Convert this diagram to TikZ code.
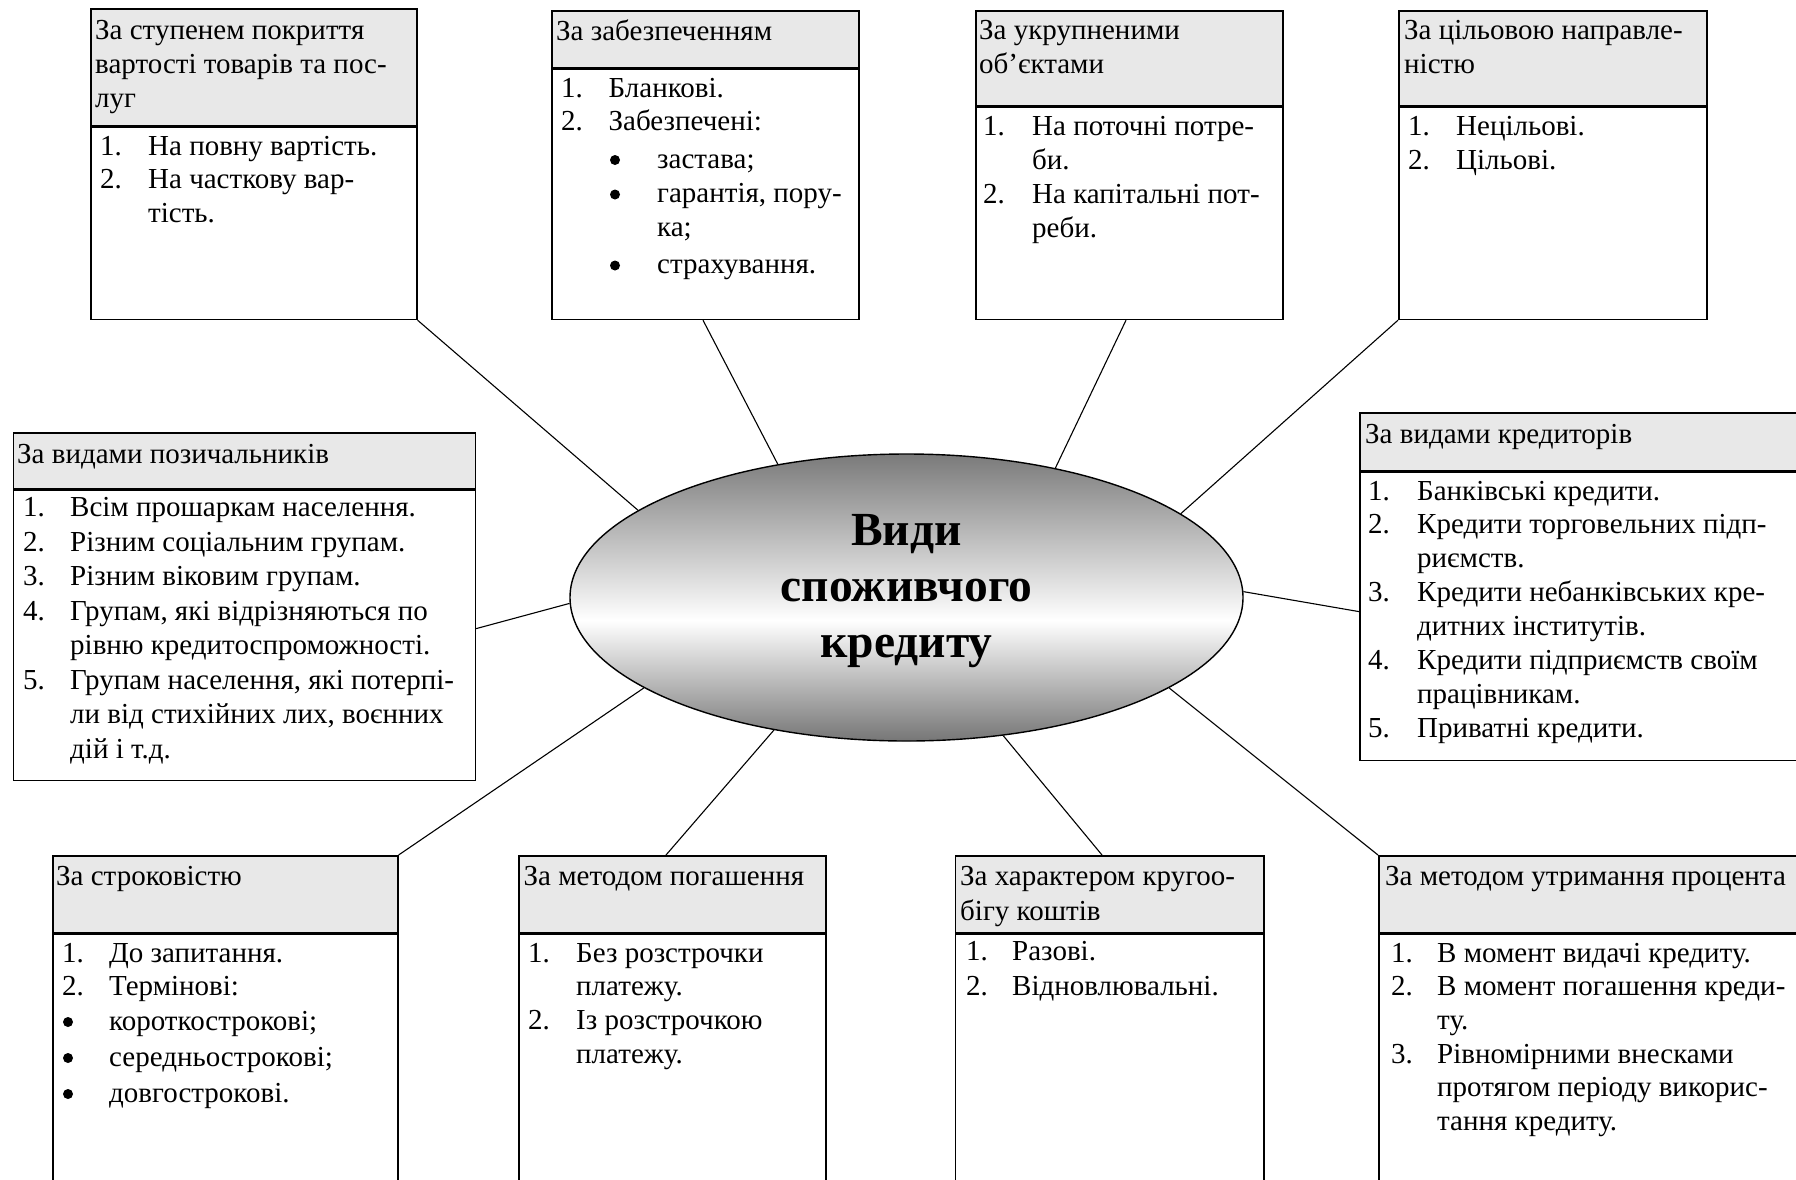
\documentclass[tikz,border=0pt]{standalone}
\usepackage{fontspec}
\setmainfont{Liberation Serif}
\usetikzlibrary{shapes.geometric}
\definecolor{hdrgray}{RGB}{232,232,232}
\definecolor{shtop}{RGB}{122,122,122}
\definecolor{shbot}{RGB}{118,118,118}
\pgfdeclareverticalshading{ellsh}{100bp}{color(0bp)=(shbot); color(25bp)=(shbot); color(46bp)=(white); color(75bp)=(shtop); color(100bp)=(shtop)}
\newcommand\rowl[3][48pt]{\hbox{\hbox to #1{#2\hfil}#3}}
\tikzset{
  box/.style={draw, line width=1.6pt, rectangle, inner sep=0pt, anchor=north west},
  hdr/.style={box, fill=hdrgray},
  txt/.style={inner sep=0pt, anchor=base west, font=\fontsize{29}{34}\selectfont},
  con/.style={line width=1.1pt},
  bul/.style={fill=black},
}
\begin{document}
\begin{tikzpicture}[x=1pt,y=-1pt]
\useasboundingbox (0,0) rectangle (1796,1179);
\clip (0,0) rectangle (1796,1179);
\fill[white] (0,0) rectangle (1796,1179);

% ---- top row boxes
\node[hdr, minimum width=326pt, minimum height=117pt] (b1h) at (90,8) {};
\node[box, minimum width=326pt, minimum height=192pt] (b1) at (b1h.south west) {};
\node[hdr, minimum width=307pt, minimum height=57pt] (b2h) at (551,10) {};
\node[box, minimum width=307pt, minimum height=250pt] (b2) at (b2h.south west) {};
\node[hdr, minimum width=307pt, minimum height=95pt] (b3h) at (975,10) {};
\node[box, minimum width=307pt, minimum height=212pt] (b3) at (b3h.south west) {};
\node[hdr, minimum width=308pt, minimum height=95pt] (b4h) at (1398,10) {};
\node[box, minimum width=308pt, minimum height=212pt] (b4) at (b4h.south west) {};
% ---- middle row boxes
\node[hdr, minimum width=462pt, minimum height=56pt] (bLh) at (12.6,432) {};
\node[box, minimum width=462pt, minimum height=290pt] (bL) at (bLh.south west) {};
\node[hdr, minimum width=460pt, minimum height=58pt] (bRh) at (1359,412) {};
\node[box, minimum width=460pt, minimum height=288pt] (bR) at (bRh.south west) {};
% ---- bottom row boxes
\node[hdr, minimum width=345pt, minimum height=77pt] (s1h) at (52,855) {};
\node[box, minimum width=345pt, minimum height=300pt] (s1) at (s1h.south west) {};
\node[hdr, minimum width=307pt, minimum height=77pt] (s2h) at (518,855) {};
\node[box, minimum width=307pt, minimum height=300pt] (s2) at (s2h.south west) {};
\node[hdr, minimum width=308.5pt, minimum height=77pt] (s3h) at (954.5,855) {};
\node[box, minimum width=308.5pt, minimum height=300pt] (s3) at (s3h.south west) {};
\node[hdr, minimum width=440pt, minimum height=77pt] (s4h) at (1378,855) {};
\node[box, minimum width=440pt, minimum height=300pt] (s4) at (s4h.south west) {};

% ---- central ellipse
\node[ellipse, draw, line width=1.4pt, minimum width=673pt, minimum height=287pt, inner sep=0pt, shading=ellsh] (ell) at (906.5,597.5) {};
\node[inner sep=0pt, anchor=base, font=\bfseries\fontsize{47.5}{56}\selectfont] (ctext) at (906.5,545)
  {\vtop{\halign{\hfil#\hfil\cr Види\cr споживчого\cr кредиту\cr}}};

% ---- connectors
\draw[con] (b1.south east) -- (ell.162);
\draw[con] ([xshift=152pt]b2.south west) -- (ell.134.1);
\draw[con] ([xshift=151pt]b3.south west) -- (ell.41.4);
\draw[con] (b4.south west) -- (ell.17.1);
\draw[con] ([yshift=-139pt]bL.north east) -- (ell.181.8);
\draw[con] ([yshift=-140pt]bR.north west) -- (ell.1.3);
\draw[con] (s1h.north east) -- (ell.199.05);
\draw[con] ([xshift=148pt]s2h.north west) -- (ell.225.2);
\draw[con] ([xshift=147.5pt]s3h.north west) -- (ell.305.5);
\draw[con] (s4h.north west) -- (ell.341.6);

% ---- texts: top row
\node[txt] (b1ht) at (95,39) {\vtop{\hbox{За ступенем покриття}\hbox{вартості товарів та пос-}\hbox{луг}}};
\node[txt] (b1t) at (100,155) {\vtop{\baselineskip=33.5pt
  \rowl{1.}{На повну вартість.}\rowl{2.}{На часткову вар-}\rowl{}{тість.}}};

\node[txt] (b2ht) at (556,40) {\vtop{\hbox{За забезпеченням}}};
\node[txt] (b2t) at (561,97) {\vtop{\baselineskip=33.5pt
  \rowl[47.5pt]{1.}{Бланкові.}\rowl[47.5pt]{2.}{Забезпечені:}\vskip4pt
  \hbox{\hskip96pt застава;}\vskip1pt
  \hbox{\hskip96pt гарантія, пору-}\hbox{\hskip96pt ка;}\vskip4pt
  \hbox{\hskip96pt страхування.}}};
\fill[bul] (615,160) circle[radius=5pt];
\fill[bul] (615,194.5) circle[radius=5pt];
\fill[bul] (615,265.5) circle[radius=5pt];

\node[txt] (b3ht) at (979,39) {\vtop{\hbox{За укрупненими}\hbox{об’єктами}}};
\node[txt] (b3t) at (983,135) {\vtop{
  \rowl[49pt]{1.}{На поточні потре-}\rowl[49pt]{}{би.}\rowl[49pt]{2.}{На капітальні пот-}\rowl[49pt]{}{реби.}}};

\node[txt] (b4ht) at (1404,39) {\vtop{\hbox{За цільовою направле-}\hbox{ністю}}};
\node[txt] (b4t) at (1408,135) {\vtop{\rowl{1.}{Нецільові.}\rowl{2.}{Цільові.}}};

% ---- texts: middle row
\node[txt] (bLht) at (17,463) {\vtop{\hbox{За видами позичальників}}};
\node[txt] (bLt) at (23,516.5) {\vtop{\baselineskip=34.5pt
  \rowl[47pt]{1.}{Всім прошаркам населення.}
  \rowl[47pt]{2.}{Різним соціальним групам.}
  \rowl[47pt]{3.}{Різним віковим групам.}
  \rowl[47pt]{4.}{Групам, які відрізняються по}
  \rowl[47pt]{}{рівню кредитоспроможності.}
  \rowl[47pt]{5.}{Групам населення, які потерпі-}
  \rowl[47pt]{}{ли від стихійних лих, воєнних}
  \rowl[47pt]{}{дій і т.д.}}};

\node[txt] (bRht) at (1365,443) {\vtop{\hbox{За видами кредиторів}}};
\node[txt] (bRt) at (1368,500) {\vtop{\baselineskip=33.9pt
  \rowl[49pt]{1.}{Банківські кредити.}
  \rowl[49pt]{2.}{Кредити торговельних підп-}
  \rowl[49pt]{}{риємств.}
  \rowl[49pt]{3.}{Кредити небанківських кре-}
  \rowl[49pt]{}{дитних інститутів.}
  \rowl[49pt]{4.}{Кредити підприємств своїм}
  \rowl[49pt]{}{працівникам.}
  \rowl[49pt]{5.}{Приватні кредити.}}};

% ---- texts: bottom row
\node[txt] (s1ht) at (56,885) {\vtop{\hbox{За строковістю}}};
\node[txt] (s1t) at (62,962) {\vtop{\baselineskip=34pt
  \rowl[47pt]{1.}{До запитання.}\vskip-1pt
  \rowl[47pt]{2.}{Термінові:}\vskip1pt
  \rowl[47pt]{}{короткострокові;}\vskip2pt
  \rowl[47pt]{}{середньострокові;}\vskip2pt
  \rowl[47pt]{}{довгострокові.}}};
\fill[bul] (68,1022) circle[radius=5pt];
\fill[bul] (68,1058) circle[radius=5pt];
\fill[bul] (68,1094) circle[radius=5pt];

\node[txt] (s2ht) at (523.5,885) {\vtop{\hbox{За методом погашення}}};
\node[txt] (s2t) at (528,962) {\vtop{\baselineskip=33.7pt
  \rowl{1.}{Без розстрочки}\rowl{}{платежу.}\rowl{2.}{Із розстрочкою}\rowl{}{платежу.}}};

\node[txt] (s3ht) at (960,885) {\vtop{\baselineskip=35pt\hbox{За характером кругоо-}\hbox{бігу коштів}}};
\node[txt] (s3t) at (966,960) {\vtop{\baselineskip=35pt
  \rowl[46pt]{1.}{Разові.}\rowl[46pt]{2.}{Відновлювальні.}}};

\node[txt] (s4ht) at (1385,885) {\vtop{\hbox{За методом утримання процента}}};
\node[txt] (s4t) at (1391,962) {\vtop{\baselineskip=33.7pt
  \rowl[46pt]{1.}{В момент видачі кредиту.}
  \rowl[46pt]{2.}{В момент погашення креди-}
  \rowl[46pt]{}{ту.}
  \rowl[46pt]{3.}{Рівномірними внесками}
  \rowl[46pt]{}{протягом періоду викорис-}
  \rowl[46pt]{}{тання кредиту.}}};
\end{tikzpicture}
\end{document}
